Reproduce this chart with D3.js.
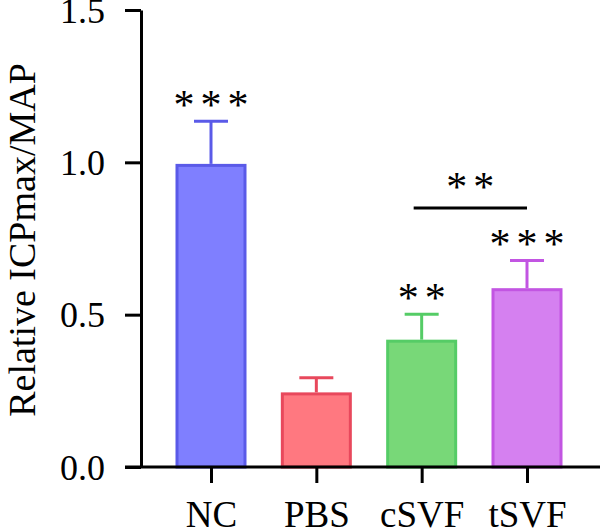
<!DOCTYPE html>
<html>
<head>
<meta charset="utf-8">
<script src="https://cdn.jsdelivr.net/npm/d3@7"></script>
<style>
  body { margin: 0; background: #fff; }
  svg { display: block; }
</style>
</head>
<body>
<svg></svg>
<script>
// values
var groups = ["NC", "PBS", "cSVF", "tSVF"];
var means = [0.99, 0.24, 0.413, 0.582];
var errs = [0.145, 0.053, 0.088, 0.096];
var stars = ["***", "", "**", "***"];
var yTicks = [0.0, 0.5, 1.0, 1.5];
var fills = ["#7f7fff", "#ff7880", "#78d878", "#d580f0"];
var strokes = ["#5a5ae8", "#e8485c", "#55cc66", "#c255e2"];
var bracket = { from: "cSVF", to: "tSVF", label: "**", value: 0.85 };

var screen = { width: 600, height: 530 };
var svg = d3.select("svg")
            .attr("width", screen.width)
            .attr("height", screen.height);

var font = "'Liberation Serif', 'DejaVu Serif', serif";

var yScale = d3.scaleLinear()
               .domain([0, 1.5])
               .range([467, 10]);

var xScale = d3.scalePoint()
               .domain(groups)
               .range([211, 527]);

var barW = 68;
var capW = 34;

var data = groups.map(function(g, i) {
  return { name: g, mean: means[i], err: errs[i], star: stars[i], fill: fills[i], stroke: strokes[i] };
});

// bars
svg.selectAll("rect.bar")
   .data(data)
   .enter()
   .append("rect")
   .attr("class", "bar")
   .attr("x", function(d) { return xScale(d.name) - barW / 2; })
   .attr("width", barW)
   .attr("y", function(d) { return yScale(d.mean); })
   .attr("height", function(d) { return yScale(0) - yScale(d.mean); })
   .attr("fill", function(d) { return d.fill; })
   .attr("stroke", function(d) { return d.stroke; })
   .attr("stroke-width", 3);

// error bars (upper only)
var eb = svg.selectAll("g.err")
   .data(data)
   .enter()
   .append("g")
   .attr("class", "err")
   .attr("stroke", function(d) { return d.stroke; })
   .attr("stroke-width", 3);
eb.append("line")
  .attr("x1", function(d) { return xScale(d.name); })
  .attr("x2", function(d) { return xScale(d.name); })
  .attr("y1", function(d) { return yScale(d.mean) - 1.5; })
  .attr("y2", function(d) { return yScale(d.mean + d.err); });
eb.append("line")
  .attr("x1", function(d) { return xScale(d.name) - capW / 2; })
  .attr("x2", function(d) { return xScale(d.name) + capW / 2; })
  .attr("y1", function(d) { return yScale(d.mean + d.err); })
  .attr("y2", function(d) { return yScale(d.mean + d.err); });

// significance stars
svg.selectAll("text.star")
   .data(data)
   .enter()
   .append("text")
   .attr("class", "star")
   .attr("x", function(d) { return xScale(d.name) + 3; })
   .attr("y", function(d) { return yScale(d.mean + d.err) - 2; })
   .attr("text-anchor", "middle")
   .attr("font-family", font)
   .attr("font-size", 42)
   .attr("letter-spacing", 6)
   .text(function(d) { return d.star; });

// bracket between cSVF and tSVF
var by = yScale(bracket.value);
svg.append("line")
   .attr("x1", xScale(bracket.from) - 8)
   .attr("x2", xScale(bracket.to))
   .attr("y1", by)
   .attr("y2", by)
   .attr("stroke", "#000")
   .attr("stroke-width", 3);
svg.append("text")
   .attr("x", (xScale(bracket.from) - 8 + xScale(bracket.to)) / 2 + 3)
   .attr("y", by - 7)
   .attr("text-anchor", "middle")
   .attr("font-family", font)
   .attr("font-size", 42)
   .attr("letter-spacing", 6)
   .text(bracket.label);

// axes
var yAxis = d3.axisLeft(yScale)
              .tickValues(yTicks)
              .tickFormat(d3.format(".1f"))
              .tickSize(16)
              .tickPadding(20)
              .tickSizeOuter(0);
var gy = svg.append("g")
   .attr("transform", "translate(141,0)")
   .call(yAxis);

var xAxis = d3.axisBottom(xScale)
              .tickSize(16)
              .tickPadding(18)
              .tickSizeOuter(0);
var gx = svg.append("g")
   .attr("transform", "translate(0,467)")
   .call(xAxis);
gx.select(".domain").attr("d", "M125,0H600");

[gx, gy].forEach(function(g) {
  g.selectAll("path, line").attr("stroke", "#000").attr("stroke-width", 3);
  g.selectAll("text")
   .attr("fill", "#000")
   .attr("font-family", font);
});
gy.selectAll("text").attr("font-size", 36).attr("dy", "0.34em");
gx.selectAll("text").attr("font-size", 37);

// y axis title
svg.append("text")
   .attr("transform", "translate(35,240) rotate(-90)")
   .attr("text-anchor", "middle")
   .attr("font-family", font)
   .attr("font-size", 38)
   .attr("fill", "#000")
   .text("Relative ICPmax/MAP");
</script>
</body>
</html>
